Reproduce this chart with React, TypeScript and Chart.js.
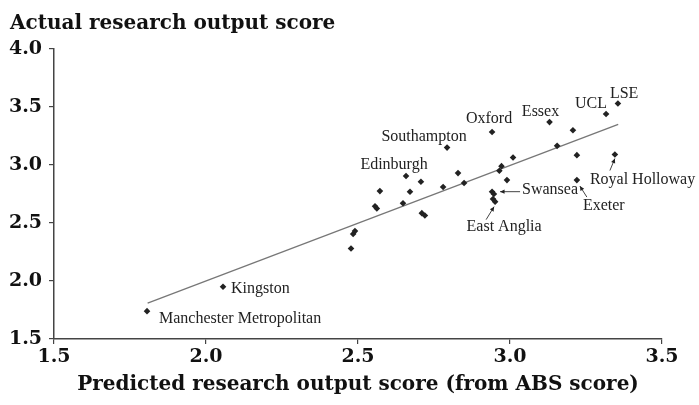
import React, { useEffect, useRef } from "react";
import { Chart, registerables } from "chart.js";

Chart.register(...registerables);

// ---- data ----
const names = [
  "Manchester Metropolitan", "Kingston", "", "", "", "", "", "", "", "Edinburgh",
  "", "", "", "", "", "Southampton", "", "", "Oxford", "Swansea",
  "", "", "East Anglia", "", "", "", "", "Essex", "", "",
  "", "Exeter", "UCL", "Royal Holloway", "LSE",
];
const predicted = [
  1.806, 2.056, 2.477, 2.484, 2.49, 2.556, 2.562, 2.572, 2.648, 2.658,
  2.671, 2.707, 2.71, 2.72, 2.78, 2.793, 2.829, 2.849, 2.941, 2.941,
  2.947, 2.944, 2.951, 2.965, 2.972, 2.99, 3.01, 3.13, 3.155, 3.207,
  3.22, 3.22, 3.316, 3.345, 3.355,
];
const actual = [
  1.74, 1.95, 2.28, 2.405, 2.43, 2.645, 2.625, 2.775, 2.67, 2.905,
  2.77, 2.855, 2.585, 2.565, 2.81, 3.15, 2.93, 2.845, 3.285, 2.77,
  2.75, 2.707, 2.684, 2.95, 2.99, 2.87, 3.065, 3.37, 3.165, 3.30,
  3.085, 2.87, 3.44, 3.09, 3.53,
];
const fitX = [1.808, 3.356];
const fitY = [1.81, 3.35];
const xTicks = [1.5, 2.0, 2.5, 3.0, 3.5];
const yTicks = [1.5, 2.0, 2.5, 3.0, 3.5, 4.0];
const chartTitle = "Actual research output score";
const xTitle = "Predicted research output score (from ABS score)";

// ---- label placement (pixel offsets from each labelled point) ----
type Lay = { align: CanvasTextAlign; dx: number; dy: number; arrow?: number[]; head?: boolean };
const labelLayout: Record<string, Lay> = {
  "LSE": { align: "left", dx: -8, dy: -10 },
  "UCL": { align: "right", dx: 1, dy: -10 },
  "Essex": { align: "center", dx: -9, dy: -10 },
  "Oxford": { align: "center", dx: -3, dy: -13 },
  "Southampton": { align: "center", dx: -23, dy: -11 },
  "Edinburgh": { align: "center", dx: -12, dy: -11 },
  "Kingston": { align: "left", dx: 8, dy: 2 },
  "Manchester Metropolitan": { align: "left", dx: 12, dy: 8 },
  "Swansea": { align: "left", dx: 30, dy: -2, arrow: [28, 0, 8, 0], head: true },
  "East Anglia": { align: "center", dx: 9, dy: 25, arrow: [-9, 18, -1, 5], head: true },
  "Exeter": { align: "left", dx: 6, dy: 26, arrow: [10, 17, 3, 6], head: true },
  "Royal Holloway": { align: "left", dx: -25, dy: 25, arrow: [-5, 16, 0, 4], head: true },
};

const BOLD = '"DejaVu Serif", serif';
const REG = '"Liberation Serif", "Times New Roman", serif';

const annotate = {
  id: "annotate",
  afterDatasetsDraw(chart: any) {
    const { ctx } = chart;
    const xs = chart.scales.x;
    const ys = chart.scales.y;
    ctx.save();
    ctx.fillStyle = "#222";
    ctx.strokeStyle = "#444";
    ctx.lineWidth = 1;
    ctx.font = `16px ${REG}`;
    ctx.textBaseline = "middle";
    names.forEach((n, i) => {
      if (!n) return;
      const L = labelLayout[n];
      if (!L) return;
      const px = xs.getPixelForValue(predicted[i]);
      const py = ys.getPixelForValue(actual[i]);
      ctx.textAlign = L.align;
      ctx.fillText(n, px + L.dx, py + L.dy);
      if (L.arrow) {
        const [x0, y0, x1, y1] = L.arrow;
        const ax = px + x0, ay = py + y0, bx = px + x1, by = py + y1;
        ctx.beginPath();
        ctx.moveTo(ax, ay);
        ctx.lineTo(bx, by);
        ctx.stroke();
        if (L.head) {
          const ang = Math.atan2(by - ay, bx - ax);
          const hl = 5;
          ctx.beginPath();
          ctx.moveTo(bx, by);
          ctx.lineTo(bx - hl * Math.cos(ang - 0.45), by - hl * Math.sin(ang - 0.45));
          ctx.lineTo(bx - hl * Math.cos(ang + 0.45), by - hl * Math.sin(ang + 0.45));
          ctx.closePath();
          ctx.fill();
        }
      }
    });
    ctx.font = `bold 20px ${BOLD}`;
    ctx.textAlign = "left";
    ctx.textBaseline = "alphabetic";
    ctx.fillStyle = "#111";
    ctx.fillText(chartTitle, 10, 29);
    ctx.restore();
  },
};

export default function App() {
  const ref = useRef<HTMLCanvasElement | null>(null);
  useEffect(() => {
    if (!ref.current) return;
    const points = predicted.map((x, i) => ({ x, y: actual[i] }));
    const fit = fitX.map((x, i) => ({ x, y: fitY[i] }));
    const chart = new Chart(ref.current, {
      type: "scatter",
      data: {
        datasets: [
          {
            data: points,
            pointStyle: "rectRot",
            pointRadius: 3.3,
            backgroundColor: "#222",
            borderColor: "#222",
            borderWidth: 0,
            showLine: false,
          },
          {
            data: fit,
            showLine: true,
            pointRadius: 0,
            borderColor: "#777",
            borderWidth: 1.3,
          },
        ],
      },
      options: {
        responsive: false,
        animation: false,
        events: [],
        layout: { padding: { top: 49, right: 37, left: 0, bottom: 0 } },
        plugins: { legend: { display: false }, tooltip: { enabled: false }, title: { display: false } },
        scales: {
          x: {
            type: "linear",
            min: 1.5,
            max: 3.5,
            afterBuildTicks: (s: any) => { s.ticks = xTicks.map((v) => ({ value: v })); },
            afterFit: (s: any) => { s.height = 66; },
            ticks: {
              callback: (v: any) => Number(v).toFixed(1),
              font: { family: BOLD, size: 19, weight: "bold" },
              color: "#111",
              padding: 2,
              maxRotation: 0,
            },
            grid: { display: true, drawOnChartArea: false, drawTicks: true, tickLength: 5, color: "#444", lineWidth: 1.2 },
            border: { display: true, color: "#444", width: 1.5 },
            title: {
              display: true,
              text: xTitle,
              font: { family: BOLD, size: 20, weight: "bold" },
              color: "#111",
              padding: { top: 0, bottom: 8 },
            },
          },
          y: {
            type: "linear",
            min: 1.5,
            max: 4.0,
            afterBuildTicks: (s: any) => { s.ticks = yTicks.map((v) => ({ value: v })); },
            afterFit: (s: any) => { s.width = 54; },
            ticks: {
              callback: (v: any) => Number(v).toFixed(1),
              font: { family: BOLD, size: 19, weight: "bold" },
              color: "#111",
              padding: 7,
            },
            grid: { display: true, drawOnChartArea: false, drawTicks: true, tickLength: 5, color: "#444", lineWidth: 1.2 },
            border: { display: true, color: "#444", width: 1.5 },
          },
        },
      },
      plugins: [annotate],
    } as any);
    return () => chart.destroy();
  }, []);
  return (
    <div style={{ position: "fixed", left: 0, top: 0, width: 699, height: 405, background: "#fff" }}>
      <canvas ref={ref} width={699} height={405} style={{ display: "block" }} />
    </div>
  );
}
